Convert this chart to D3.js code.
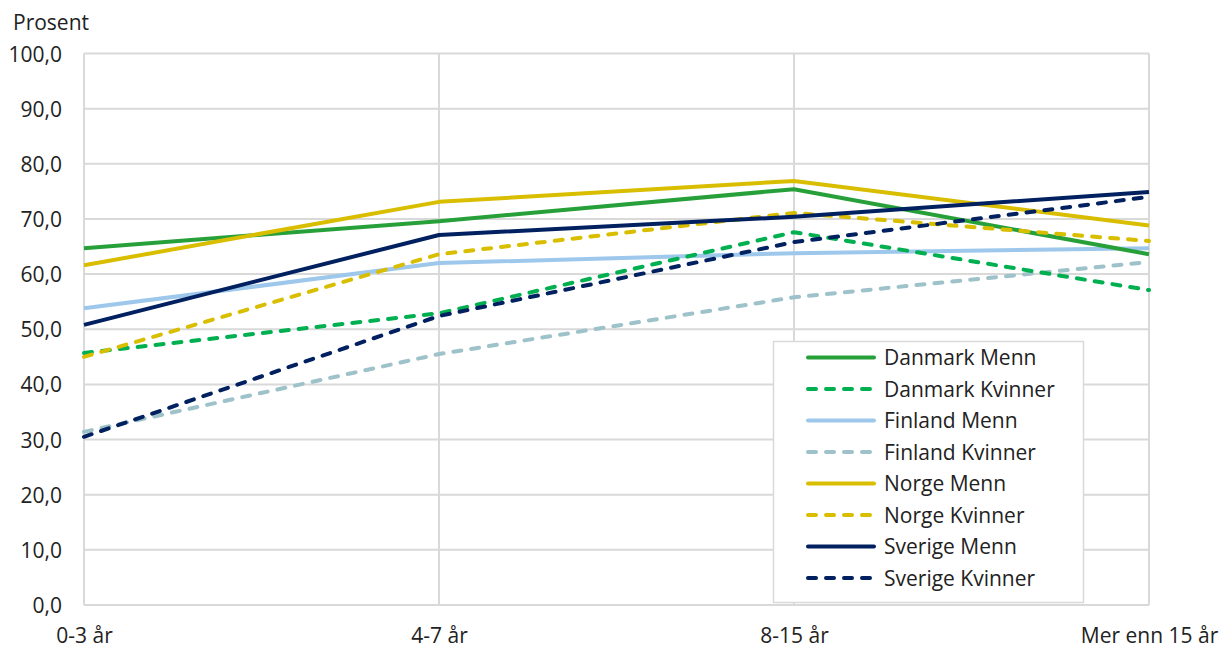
<!DOCTYPE html>
<html><head><meta charset="utf-8">
<script src="https://cdn.jsdelivr.net/npm/d3@7"></script>
<style>body{margin:0;background:#fff}text{font-family:"Open Sans","Noto Sans",sans-serif}</style>
</head><body><svg id="c" width="1222" height="645"></svg>
<script>
const categories = ["0-3 år","4-7 år","8-15 år","Mer enn 15 år"];
const yTicks = [0,10,20,30,40,50,60,70,80,90,100];
const seriesNames = ["Danmark Menn","Danmark Kvinner","Finland Menn","Finland Kvinner","Norge Menn","Norge Kvinner","Sverige Menn","Sverige Kvinner"];
const danmarkMenn = [64.7, 69.6, 75.4, 63.6];
const danmarkKvinner = [45.7, 52.9, 67.6, 57.1];
const finlandMenn = [53.8, 62.0, 63.8, 64.7];
const finlandKvinner = [31.4, 45.5, 55.8, 62.2];
const norgeMenn = [61.6, 73.1, 76.9, 68.8];
const norgeKvinner = [45.0, 63.6, 71.1, 66.0];
const sverigeMenn = [50.8, 67.1, 70.4, 74.9];
const sverigeKvinner = [30.5, 52.4, 65.8, 74.0];
const seriesValues = [danmarkMenn, danmarkKvinner, finlandMenn, finlandKvinner, norgeMenn, norgeKvinner, sverigeMenn, sverigeKvinner];
const colors = ["#28A03A","#00B050","#9DC8EC","#9EC2C9","#D9BE00","#D9BE00","#002060","#002060"];
const dashed = [false,true,false,true,false,true,false,true];

const svg = d3.select("#c");
const x = d3.scalePoint().domain(categories).range([84,1149]);
const y = d3.scaleLinear().domain([0,100]).range([605,53.5]);
const FS = 21;

// gridlines
svg.append("g").selectAll("line").data(yTicks).join("line")
  .attr("x1",84).attr("x2",1149).attr("y1",d=>y(d)).attr("y2",d=>y(d))
  .attr("stroke","#d9d9d9").attr("stroke-width",2);
svg.append("g").selectAll("line").data(categories).join("line")
  .attr("x1",d=>x(d)).attr("x2",d=>x(d)).attr("y1",y(0)).attr("y2",y(100))
  .attr("stroke","#d9d9d9").attr("stroke-width",2);

// y axis labels
const yAxis = d3.axisLeft(y).tickValues(yTicks).tickSize(0).tickPadding(0)
  .tickFormat(d=>d3.format(".1f")(d).replace(".",","));
const ga = svg.append("g").attr("transform","translate(62,0)").call(yAxis);
ga.select(".domain").remove();
ga.selectAll("text").attr("font-size",FS).attr("fill","#222").attr("font-family",'"Open Sans",sans-serif').attr("dy","0.36em");

// x axis labels
const xAxis = d3.axisBottom(x).tickSize(0).tickPadding(0);
const gx = svg.append("g").attr("transform","translate(0,0)").call(xAxis);
gx.select(".domain").remove();
gx.selectAll("text").attr("font-size",FS).attr("fill","#222").attr("font-family",'"Open Sans",sans-serif')
  .attr("y",643).attr("dy",null).attr("text-anchor","middle");

svg.append("text").attr("x",13).attr("y",30).attr("font-size",FS).attr("fill","#222").text("Prosent");

const line = d3.line().x((d,i)=>x(categories[i])).y(d=>y(d));
const order = [3,2,1,0,5,4,7,6];
order.forEach(i=>{
  svg.append("path").attr("d",line(seriesValues[i])).attr("fill","none")
    .attr("stroke",colors[i]).attr("stroke-width",4)
    .attr("stroke-linecap", dashed[i] ? "round" : "butt")
    .attr("stroke-linejoin","round")
    .attr("stroke-dasharray", dashed[i] ? "8,10" : null);
});

// legend
const lg = svg.append("g");
lg.append("rect").attr("x",773.5).attr("y",341.5).attr("width",310).attr("height",261)
  .attr("fill","#fff").attr("stroke","#d9d9d9").attr("stroke-width",1.5);
seriesNames.forEach((n,i)=>{
  const cy = 357.5 + i*31.5;
  lg.append("line").attr("x1",808).attr("x2",874).attr("y1",cy).attr("y2",cy)
    .attr("stroke",colors[i]).attr("stroke-width",4).attr("stroke-linecap","round")
    .attr("stroke-dasharray", dashed[i] ? "8,10" : null);
  lg.append("text").attr("x",884).attr("y",cy).attr("dy","0.36em").attr("font-size",FS).attr("fill","#222").text(n);
});
</script></body></html>
